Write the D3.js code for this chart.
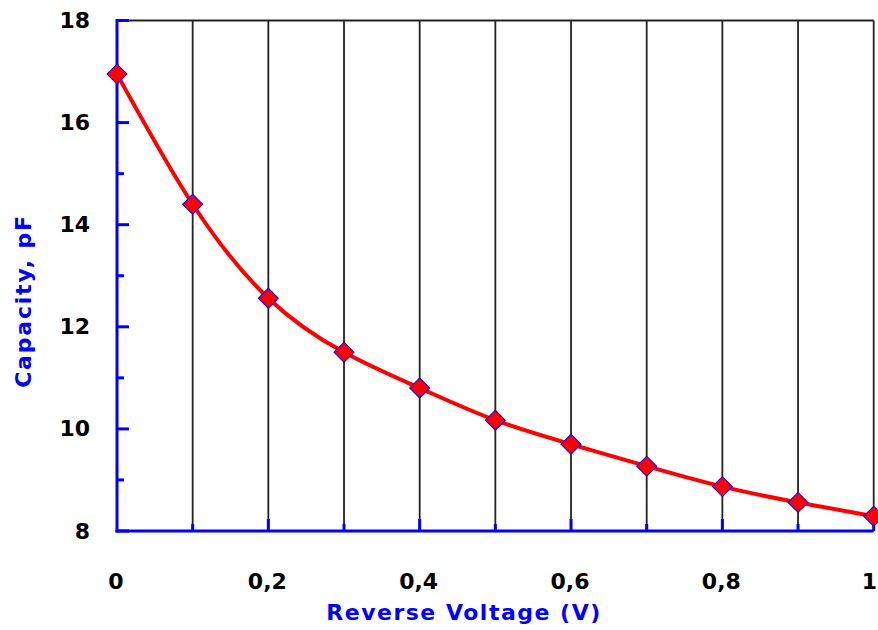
<!DOCTYPE html>
<html>
<head>
<meta charset="utf-8">
<script src="https://cdn.jsdelivr.net/npm/d3@7"></script>
<style>
  html, body { margin: 0; padding: 0; background: #fff; }
  svg { display: block; }
</style>
</head>
<body>
<svg id="chart" width="878" height="630"></svg>
<script>
// Data
const voltages = [0, 0.1, 0.2, 0.3, 0.4, 0.5, 0.6, 0.7, 0.8, 0.9, 1.0];
const capacity = [16.95, 14.4, 12.56, 11.5, 10.8, 10.17, 9.7, 9.27, 8.87, 8.56, 8.29];
const xTickValues = [0, 0.2, 0.4, 0.6, 0.8, 1];
const xTickLabels = ["0", "0,2", "0,4", "0,6", "0,8", "1"];
const yTickValues = [8, 10, 12, 14, 16, 18];
const yTickLabels = ["8", "10", "12", "14", "16", "18"];
const xTitle = "Reverse Voltage (V)";
const yTitle = "Capacity, pF";

const svg = d3.select("#chart");
const W = 878, H = 630;
const margin = { left: 117, top: 20.5, right: 4.3, bottom: 99 };
const x = d3.scaleLinear().domain([0, 1]).range([margin.left, W - margin.right]);
const y = d3.scaleLinear().domain([8, 18]).range([H - margin.bottom, margin.top]);

const font = "'DejaVu Sans', Verdana, sans-serif";

// Vertical grid lines every 0.1
const gridVals = d3.range(1, 11).map(i => i / 10);
svg.append("g").selectAll("line").data(gridVals).join("line")
  .attr("x1", d => x(d)).attr("x2", d => x(d))
  .attr("y1", y(18)).attr("y2", y(8))
  .attr("stroke", "#222").attr("stroke-width", 1.8);

// Top frame line
svg.append("line")
  .attr("x1", x(0)).attr("x2", x(1))
  .attr("y1", y(18)).attr("y2", y(18))
  .attr("stroke", "#222").attr("stroke-width", 1.8);

// Y axis (blue), ticks pointing inward
const yAxisG = svg.append("g");
yAxisG.append("line")
  .attr("x1", x(0)).attr("x2", x(0)).attr("y1", y(18) - 1.5).attr("y2", y(8) + 1.5)
  .attr("stroke", "#0000ff").attr("stroke-width", 3);
const yMinor = d3.range(9, 18, 2);
yAxisG.selectAll("line.maj").data(yTickValues).join("line").attr("class", "maj")
  .attr("x1", x(0)).attr("x2", x(0) + 12)
  .attr("y1", d => y(d)).attr("y2", d => y(d))
  .attr("stroke", "#0000ff").attr("stroke-width", 3);
yAxisG.selectAll("line.min").data(yMinor).join("line").attr("class", "min")
  .attr("x1", x(0)).attr("x2", x(0) + 7)
  .attr("y1", d => y(d)).attr("y2", d => y(d))
  .attr("stroke", "#0000ff").attr("stroke-width", 3);
yAxisG.selectAll("text").data(yTickValues).join("text")
  .attr("x", 90).attr("y", d => y(d))
  .attr("text-anchor", "end").attr("dominant-baseline", "central")
  .attr("font-family", font).attr("font-weight", "bold").attr("font-size", 22)
  .attr("fill", "#000")
  .text((d, i) => yTickLabels[i]);

// X axis (blue), ticks pointing up
const xAxisG = svg.append("g");
xAxisG.append("line")
  .attr("x1", x(0) - 1.5).attr("x2", x(1)).attr("y1", y(8)).attr("y2", y(8))
  .attr("stroke", "#0000ff").attr("stroke-width", 3);
const xMinor = [0.1, 0.3, 0.5, 0.7, 0.9];
xAxisG.selectAll("line.maj").data(xTickValues.slice(1)).join("line").attr("class", "maj")
  .attr("x1", d => x(d)).attr("x2", d => x(d))
  .attr("y1", y(8)).attr("y2", y(8) - 12)
  .attr("stroke", "#0000ff").attr("stroke-width", 3);
xAxisG.selectAll("line.min").data(xMinor).join("line").attr("class", "min")
  .attr("x1", d => x(d)).attr("x2", d => x(d))
  .attr("y1", y(8)).attr("y2", y(8) - 7)
  .attr("stroke", "#0000ff").attr("stroke-width", 3);
xAxisG.selectAll("text").data(xTickValues).join("text")
  .attr("x", d => d === 1 ? W - 1 : x(d) - 1).attr("y", 589)
  .attr("text-anchor", d => d === 1 ? "end" : "middle")
  .attr("font-family", font).attr("font-weight", "bold").attr("font-size", 22)
  .attr("fill", "#000")
  .text((d, i) => xTickLabels[i]);

// Axis titles
svg.append("text")
  .attr("x", 464).attr("y", 620)
  .attr("text-anchor", "middle")
  .attr("font-family", font).attr("font-weight", "bold").attr("font-size", 22)
  .attr("letter-spacing", 1.5)
  .attr("fill", "#0000ff")
  .text(xTitle);
svg.append("text")
  .attr("transform", "translate(31,301) rotate(-90)")
  .attr("text-anchor", "middle")
  .attr("font-family", font).attr("font-weight", "bold").attr("font-size", 22)
  .attr("letter-spacing", 1.8)
  .attr("fill", "#0000ff")
  .text(yTitle);

// Data line
const pts = voltages.map((v, i) => [v, capacity[i]]);
const line = d3.line().x(d => x(d[0])).y(d => y(d[1])).curve(d3.curveNatural);
svg.append("path").datum(pts)
  .attr("d", line)
  .attr("fill", "none").attr("stroke", "#ff0000").attr("stroke-width", 4)
  .attr("stroke-linejoin", "round");

// Diamond markers
const diamond = d3.symbol().type(d3.symbolSquare).size(200);
svg.append("g").selectAll("path").data(pts).join("path")
  .attr("d", diamond)
  .attr("transform", d => `translate(${x(d[0])},${y(d[1])}) rotate(45)`)
  .attr("fill", "#ff0000").attr("stroke", "#0000ff").attr("stroke-width", 1);
</script>
</body>
</html>
